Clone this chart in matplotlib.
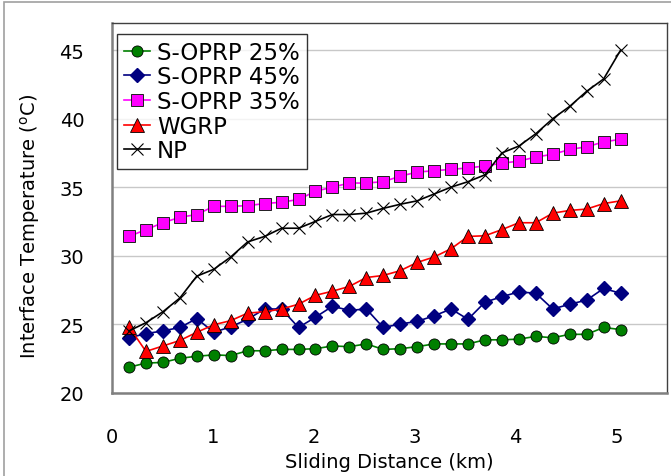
import matplotlib.pyplot as plt
from matplotlib.patches import Rectangle

# Sliding distance (km)
distance = [0.168, 0.336, 0.504, 0.672, 0.840, 1.008, 1.176, 1.344, 1.512, 1.680,
            1.848, 2.016, 2.184, 2.352, 2.520, 2.688, 2.856, 3.024, 3.192, 3.360,
            3.528, 3.696, 3.864, 4.032, 4.200, 4.368, 4.536, 4.704, 4.872, 5.040]

# Interface temperature (C)
soprp25 = [21.85, 22.15, 22.2, 22.5, 22.65, 22.75, 22.7, 23.05, 23.05, 23.15,
           23.15, 23.2, 23.4, 23.35, 23.55, 23.15, 23.2, 23.35, 23.55, 23.55,
           23.55, 23.85, 23.85, 23.9, 24.1, 24.0, 24.25, 24.25, 24.75, 24.6]
soprp45 = [24.0, 24.3, 24.5, 24.75, 25.4, 24.4, 24.8, 25.35, 26.1, 26.1,
           24.75, 25.5, 26.3, 26.0, 26.1, 24.75, 25.0, 25.2, 25.6, 26.1,
           25.35, 26.6, 27.0, 27.35, 27.25, 26.1, 26.45, 26.75, 27.6, 27.25]
soprp35 = [31.4, 31.9, 32.4, 32.8, 33.0, 33.6, 33.6, 33.65, 33.8, 33.9,
           34.1, 34.7, 35.0, 35.3, 35.3, 35.4, 35.8, 36.1, 36.2, 36.3,
           36.4, 36.55, 36.75, 36.9, 37.2, 37.4, 37.75, 37.95, 38.3, 38.5]
wgrp = [24.8, 23.0, 23.4, 23.8, 24.4, 24.95, 25.25, 25.8, 25.9, 26.1,
        26.45, 27.1, 27.4, 27.75, 28.4, 28.55, 28.9, 29.5, 29.9, 30.5,
        31.4, 31.45, 31.9, 32.4, 32.4, 33.1, 33.3, 33.4, 33.8, 34.0]
np_vals = [24.5, 25.1, 25.9, 26.9, 28.5, 29.0, 29.9, 31.0, 31.4, 32.0,
           32.0, 32.5, 33.0, 33.0, 33.1, 33.45, 33.75, 34.0, 34.5, 35.0,
           35.4, 35.9, 37.5, 38.0, 38.9, 40.0, 40.9, 42.0, 42.9, 45.0]

plt.rcParams['font.family'] = ['DejaVu Sans']

fig = plt.figure(figsize=(6.71, 4.77), dpi=100)
ax = fig.add_axes([0.167, 0.175, 0.827, 0.775])

# outer chart border (Excel style)
fig.patches.append(Rectangle((4 / 671, -0.05), 1.1, 1 - 3 / 477 + 0.05,
                             transform=fig.transFigure, fill=False,
                             edgecolor='#a0a0a0', linewidth=1.2))

ax.plot(distance, soprp25, marker='o', color='#008000', markerfacecolor='#008000',
        markeredgecolor='black', markeredgewidth=0.6, markersize=8, linewidth=1.2,
        label='S-OPRP 25%', zorder=3)
ax.plot(distance, soprp45, marker='D', color='#000080', markerfacecolor='#000080',
        markeredgecolor='#000080', markersize=7, linewidth=1.2,
        label='S-OPRP 45%', zorder=3)
ax.plot(distance, soprp35, marker='s', color='#ff00ff', markerfacecolor='#ff00ff',
        markeredgecolor='#202020', markeredgewidth=0.7, markersize=8.5, linewidth=1.2,
        label='S-OPRP 35%', zorder=3)
ax.plot(distance, wgrp, marker='^', color='#ff0000', markerfacecolor='#ff0000',
        markeredgecolor='black', markeredgewidth=0.6, markersize=9.5, linewidth=1.2,
        label='WGRP', zorder=3)
ax.plot(distance, np_vals, marker='x', color='black', markersize=9,
        markeredgewidth=0.8, linewidth=1.2, label='NP', zorder=3)

ax.set_xlim(0, 5.5)
ax.set_ylim(20, 47)
ax.set_xticks([0, 1, 2, 3, 4, 5])
ax.set_yticks([20, 25, 30, 35, 40, 45])
ax.tick_params(axis='both', length=0, labelsize=14)
ax.tick_params(axis='y', pad=20)
ax.tick_params(axis='x', pad=25)

ax.grid(axis='y', color='#c8c8c8', linewidth=1)
ax.set_axisbelow(True)

for side in ['top', 'right']:
    ax.spines[side].set_color('#404040')
    ax.spines[side].set_linewidth(1)
for side in ['left', 'bottom']:
    ax.spines[side].set_color('#808080')
    ax.spines[side].set_linewidth(1.8)

ax.set_xlabel('Sliding Distance (km)', fontsize=14, labelpad=4)
ax.set_ylabel(r'Interface Temperature ($^\mathregular{o}$C)', fontsize=14)
ax.yaxis.set_label_coords(-0.127, 0.453)

leg = ax.legend(loc='upper left', bbox_to_anchor=(0.009, 0.97), fontsize=16.5,
                frameon=True, fancybox=False, borderaxespad=0, handlelength=1.15,
                handletextpad=0.3, labelspacing=0.07, borderpad=0.3)
leg.get_frame().set_edgecolor('black')
leg.get_frame().set_linewidth(1)

fig.savefig('out.png', dpi=100)
